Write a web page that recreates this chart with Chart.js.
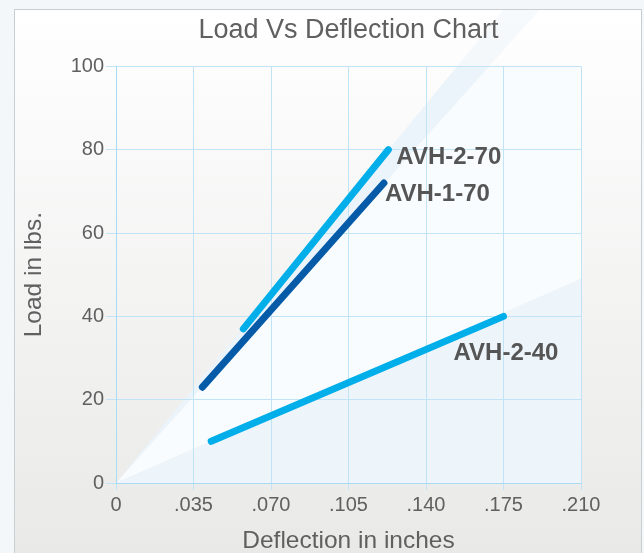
<!DOCTYPE html>
<html>
<head>
<meta charset="utf-8">
<title>Load Vs Deflection Chart</title>
<script src="https://cdn.jsdelivr.net/npm/chart.js@4"></script>
<style>
	html, body { margin: 0; padding: 0; background: #f2f6f9; }
	#wrap { width: 644px; height: 553px; }
</style>
</head>
<body>
<div id="wrap"><canvas id="myChart" width="644" height="553"></canvas></div>
<script>
// data
var xTicks = [0, 0.035, 0.070, 0.105, 0.140, 0.175, 0.210];
var yTicks = [0, 20, 40, 60, 80, 100];

var seriesNames = ['AVH-2-70', 'AVH-1-70', 'AVH-2-40'];
var avh270X = [0.0575, 0.123];
var avh270Y = [37, 80];
var avh170X = [0.039, 0.121];
var avh170Y = [23, 72];
var avh240X = [0.043, 0.175];
var avh240Y = [10, 40];

function toPoints(xs, ys){
	var pts = [];
	for(var i = 0; i < xs.length; i++){
		pts.push({x: xs[i], y: ys[i]});
	}
	return pts;
}

// label offsets from the last point of each line (px)
var labelOffset = {
	'AVH-2-70': [8, 8],
	'AVH-1-70': [1, 11],
	'AVH-2-40': [-50, 37]
};

//background panel + light wedges
var backdrop = {
	id: 'backdrop',
	beforeDraw: function(chart){
		var ctx = chart.ctx;
		var a = chart.chartArea;
		var xs = chart.scales.x, ys = chart.scales.y;
		ctx.save();
		ctx.fillStyle = '#f3f7fa';
		ctx.fillRect(0, 0, chart.width, chart.height);

		// panel
		var g = ctx.createLinearGradient(0, 9, 0, chart.height);
		g.addColorStop(0, '#ffffff');
		g.addColorStop(1, '#e9e9e8');
		ctx.fillStyle = g;
		ctx.fillRect(14, 9, 628, chart.height);
		ctx.strokeStyle = '#c9ced3';
		ctx.lineWidth = 1;
		ctx.strokeRect(14.5, 9.5, 627, chart.height);

		var ox = xs.getPixelForValue(0), oy = ys.getPixelForValue(0);
		var bl = xs.getPixelForValue(0.154), br = xs.getPixelForValue(0.1685);
		var top = ys.getPixelForValue(100);
		var ry = ys.getPixelForValue(49);

		// faint band, runs up to the panel top
		var k1 = (bl - ox) / (oy - top), k2 = (br - ox) / (oy - top);
		ctx.beginPath();
		ctx.moveTo(ox, oy);
		ctx.lineTo(ox + k1 * (oy - 10), 10);
		ctx.lineTo(ox + k2 * (oy - 10), 10);
		ctx.closePath();
		ctx.fillStyle = 'rgba(228,240,249,0.3)';
		ctx.fill();

		ctx.beginPath();
		ctx.rect(a.left, a.top, a.right - a.left, a.bottom - a.top);
		ctx.clip();
		ctx.beginPath();
		ctx.moveTo(ox, oy);
		ctx.lineTo(bl, top);
		ctx.lineTo(br, top);
		ctx.closePath();
		ctx.fillStyle = '#ebf4fa';
		ctx.fill();

		ctx.beginPath();
		ctx.moveTo(ox, oy);
		ctx.lineTo(br, top);
		ctx.lineTo(a.right, top);
		ctx.lineTo(a.right, ry);
		ctx.closePath();
		ctx.fillStyle = '#f8fcfe';
		ctx.fill();

		ctx.beginPath();
		ctx.moveTo(ox, oy);
		ctx.lineTo(a.right, ry);
		ctx.lineTo(a.right, oy);
		ctx.closePath();
		ctx.fillStyle = '#edf5fb';
		ctx.fill();
		ctx.restore();
	}
};

//series names next to the lines
var lineLabels = {
	id: 'lineLabels',
	afterDatasetsDraw: function(chart){
		var ctx = chart.ctx;
		ctx.save();
		ctx.font = 'bold 24px "Liberation Sans", Arial, sans-serif';
		ctx.fillStyle = '#555555';
		ctx.textAlign = 'left';
		ctx.textBaseline = 'middle';
		chart.data.datasets.forEach(function(ds, i){
			var pts = chart.getDatasetMeta(i).data;
			var last = pts[pts.length - 1];
			var off = labelOffset[ds.label];
			ctx.fillText(ds.label, last.x + off[0], last.y + off[1]);
		});
		ctx.restore();
	}
};

var gridColor = '#c0e3f5';
var textColor = '#606060';
var fontFam = '"Liberation Sans", Arial, sans-serif';

var ctx = document.getElementById('myChart');
var myChart = new Chart(ctx, {
	type: 'line',
	data: {
		datasets: [
			{
				label: seriesNames[0],
				data: toPoints(avh270X, avh270Y),
				borderColor: '#00aeea',
				borderWidth: 7,
				borderCapStyle: 'round',
				pointRadius: 0,
				fill: false
			},
			{
				label: seriesNames[1],
				data: toPoints(avh170X, avh170Y),
				borderColor: '#065ba8',
				borderWidth: 7,
				borderCapStyle: 'round',
				pointRadius: 0,
				fill: false
			},
			{
				label: seriesNames[2],
				data: toPoints(avh240X, avh240Y),
				borderColor: '#00aeea',
				borderWidth: 7,
				borderCapStyle: 'round',
				pointRadius: 0,
				fill: false
			}
		]
	},
	options: {
		responsive: false,
		animation: false,
		layout: { padding: { left: 0, right: 63, top: 0, bottom: 0 } },
		plugins: {
			legend: { display: false },
			tooltip: { enabled: false },
			title: {
				display: true,
				text: 'Load Vs Deflection Chart',
				fullSize: false,
				color: textColor,
				font: { family: fontFam, size: 27, weight: 'normal' },
				padding: { top: 14, bottom: 20 }
			}
		},
		scales: {
			x: {
				type: 'linear',
				min: 0,
				max: 0.21,
				afterBuildTicks: function(scale){
					scale.ticks = xTicks.map(function(v){ return {value: v}; });
				},
				afterFit: function(scale){ scale.height = 70; },
				ticks: {
					color: textColor,
					padding: 3,
					maxRotation: 0,
					font: { family: fontFam, size: 20 },
					callback: function(v){
						return v === 0 ? '0' : v.toFixed(3).replace(/^0/, '');
					}
				},
				grid: { color: gridColor, tickLength: 7, lineWidth: 1 },
				border: { color: '#a9dbf3' },
				title: {
					display: true,
					text: 'Deflection in inches',
					color: textColor,
					font: { family: fontFam, size: 24.5 },
					padding: { top: 0, bottom: -3 }
				}
			},
			y: {
				min: 0,
				max: 100,
				afterBuildTicks: function(scale){
					scale.ticks = yTicks.map(function(v){ return {value: v}; });
				},
				afterFit: function(scale){ scale.width = 116; },
				ticks: {
					color: textColor,
					padding: 2,
					font: { family: fontFam, size: 20 }
				},
				grid: { color: gridColor, tickLength: 10, lineWidth: 1 },
				border: { color: '#a9dbf3' },
				title: {
					display: true,
					text: 'Load in lbs.',
					color: textColor,
					font: { family: fontFam, size: 24.5 },
					padding: { top: 20, bottom: 0 }
				}
			}
		}
	},
	plugins: [backdrop, lineLabels]
});
</script>
</body>
</html>
